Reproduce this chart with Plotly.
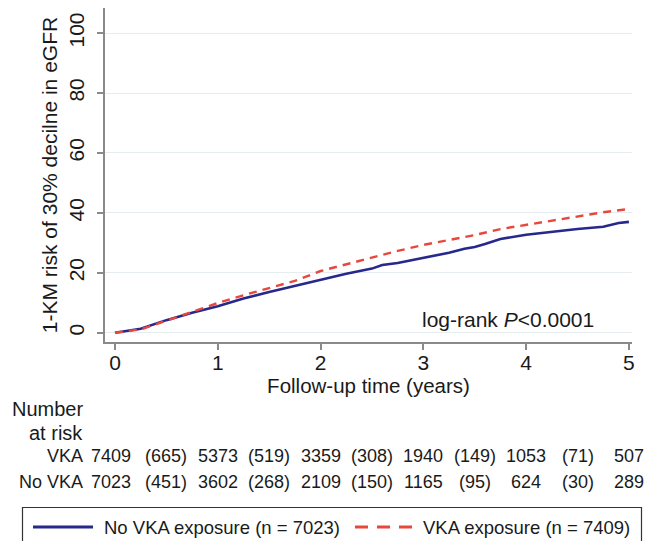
import plotly.graph_objects as go

# ---- data ----
t_novka = [0, 0.25, 0.5, 0.75, 1.0, 1.25, 1.5, 1.75, 2.0, 2.25, 2.5, 2.6, 2.75,
           3.0, 3.25, 3.4, 3.5, 3.6, 3.75, 4.0, 4.25, 4.5, 4.75, 4.9, 5.0]
v_novka = [0, 1.3, 4.2, 6.7, 8.8, 11.4, 13.6, 15.6, 17.8, 19.7, 21.4, 22.6, 23.3,
           24.9, 26.7, 28.0, 28.6, 29.6, 31.3, 32.7, 33.7, 34.6, 35.4, 36.6, 37.0]

t_vka = [0, 0.25, 0.5, 0.75, 1.0, 1.25, 1.5, 1.75, 2.0, 2.25, 2.5, 2.75, 3.0,
         3.25, 3.5, 3.75, 4.0, 4.25, 4.5, 4.75, 5.0]
v_vka = [0, 1.1, 4.0, 6.9, 9.9, 12.5, 14.9, 17.3, 20.6, 22.9, 25.1, 27.3, 29.3,
         31.0, 32.6, 34.6, 36.0, 37.6, 38.9, 40.2, 41.3]

risk_years = [0, 1, 2, 3, 4, 5]
risk_vka = ["7409", "5373", "3359", "1940", "1053", "507"]
risk_novka = ["7023", "3602", "2109", "1165", "624", "289"]
event_mid = [0.5, 1.5, 2.5, 3.5, 4.5]
events_vka = ["(665)", "(519)", "(308)", "(149)", "(71)"]
events_novka = ["(451)", "(268)", "(150)", "(95)", "(30)"]

x_ticks = [0, 1, 2, 3, 4, 5]
y_ticks = [0, 20, 40, 60, 80, 100]

BLUE = "#27288c"
RED = "#e8473d"
FONT = "Liberation Sans, Arial, Helvetica, sans-serif"
TXT = "#1a1a1a"

W, H = 646, 541
ML, MR, MT, MB = 105, 14, 8, 199
PH = H - MT - MB
PW = W - ML - MR


def py2paper(py):
    return (H - MB - py) / PH


def px2paper(px):
    return (px - ML) / PW


fig = go.Figure()
fig.add_trace(go.Scatter(x=t_novka, y=v_novka, mode="lines",
                         line=dict(color=BLUE, width=2.6), showlegend=False,
                         name="No VKA exposure (n = 7023)"))
fig.add_trace(go.Scatter(x=t_vka, y=v_vka, mode="lines",
                         line=dict(color=RED, width=2.4, dash="8px,6px"), showlegend=False,
                         name="VKA exposure (n = 7409)"))

ann = []
# log-rank
ann.append(dict(x=3.82, y=4.3, xref="x", yref="y", text="log-rank <i>P</i>&lt;0.0001",
                showarrow=False, font=dict(size=21, color=TXT, family=FONT)))
# number at risk header
ann.append(dict(x=px2paper(85), y=py2paper(409), xref="paper", yref="paper", text="Number",
                xanchor="right", yanchor="middle", showarrow=False,
                font=dict(size=20, color=TXT, family=FONT)))
ann.append(dict(x=px2paper(85), y=py2paper(433), xref="paper", yref="paper", text="at risk",
                xanchor="right", yanchor="middle", showarrow=False,
                font=dict(size=20, color=TXT, family=FONT)))
row_y = {"VKA": py2paper(456.5), "No VKA": py2paper(481.5)}
for lab in row_y:
    ann.append(dict(x=px2paper(85), y=row_y[lab], xref="paper", yref="paper", text=lab,
                    xanchor="right", yanchor="middle", showarrow=False,
                    font=dict(size=18, color=TXT, family=FONT)))
for yr, a, b in zip(risk_years, risk_vka, risk_novka):
    xx = yr - 0.04 if yr == 0 else yr
    for lab, txt in (("VKA", a), ("No VKA", b)):
        ann.append(dict(x=xx, y=row_y[lab], xref="x", yref="paper", text=txt,
                        xanchor="center", yanchor="middle", showarrow=False,
                        font=dict(size=18, color=TXT, family=FONT)))
for m, a, b in zip(event_mid, events_vka, events_novka):
    for lab, txt in (("VKA", a), ("No VKA", b)):
        ann.append(dict(x=m, y=row_y[lab], xref="x", yref="paper", text=txt,
                        xanchor="center", yanchor="middle", showarrow=False,
                        font=dict(size=18, color=TXT, family=FONT)))

# manual legend
shapes = []
shapes.append(dict(type="rect", xref="paper", yref="paper",
                   x0=px2paper(22.5), x1=px2paper(641.5), y0=py2paper(545), y1=py2paper(507.5),
                   line=dict(color="#333333", width=1.2), fillcolor="rgba(0,0,0,0)"))
shapes.append(dict(type="line", xref="paper", yref="paper",
                   x0=px2paper(33), x1=px2paper(93), y0=py2paper(527), y1=py2paper(527),
                   line=dict(color=BLUE, width=2.8)))
shapes.append(dict(type="line", xref="paper", yref="paper",
                   x0=px2paper(355), x1=px2paper(413), y0=py2paper(527), y1=py2paper(527),
                   line=dict(color=RED, width=2.8, dash="13px,9px")))
ann.append(dict(x=px2paper(102), y=py2paper(527), xref="paper", yref="paper",
                text="No VKA exposure (n = 7023)", xanchor="left", yanchor="middle",
                showarrow=False, font=dict(size=18.5, color=TXT, family=FONT)))
ann.append(dict(x=px2paper(421), y=py2paper(527), xref="paper", yref="paper",
                text="VKA exposure (n = 7409)", xanchor="left", yanchor="middle",
                showarrow=False, font=dict(size=18.5, color=TXT, family=FONT)))

fig.update_layout(
    width=W, height=H,
    margin=dict(l=ML, r=MR, t=MT, b=MB, autoexpand=False),
    paper_bgcolor="white", plot_bgcolor="white",
    font=dict(family=FONT, color=TXT, size=20),
    annotations=ann, shapes=shapes, showlegend=False,
    xaxis=dict(range=[-0.097, 5.03], tickmode="array", tickvals=x_ticks,
               ticktext=[str(v) for v in x_ticks],
               showgrid=False, zeroline=False, showline=True, linecolor="#8a8a8a", linewidth=1.6,
               ticks="outside", ticklen=6, tickcolor="#8a8a8a", tickwidth=1.6,
               ticklabelstandoff=-5,
               tickfont=dict(size=21, color=TXT, family=FONT),
               title=dict(text="Follow-up time (years)", standoff=6,
                          font=dict(size=20.5, color=TXT, family=FONT))),
    yaxis=dict(range=[-3.1, 108.4], tickmode="array", tickvals=y_ticks,
               ticktext=[str(v) for v in y_ticks], tickangle=-90,
               showgrid=True, gridcolor="#e6edf1", gridwidth=1.2,
               zeroline=True, zerolinecolor="#e6edf1", zerolinewidth=1.2,
               showline=True, linecolor="#8a8a8a", linewidth=1.6,
               ticks="outside", ticklen=6, tickcolor="#8a8a8a", tickwidth=1.6,
               ticklabelstandoff=5,
               tickfont=dict(size=21, color=TXT, family=FONT),
               title=dict(text="1-KM risk of 30% decilne in eGFR", standoff=1,
                          font=dict(size=21, color=TXT, family=FONT))),
)

fig.write_html("out.html", config={"displayModeBar": False},
               post_script="document.body.style.margin='0';document.body.style.overflow='hidden';")
